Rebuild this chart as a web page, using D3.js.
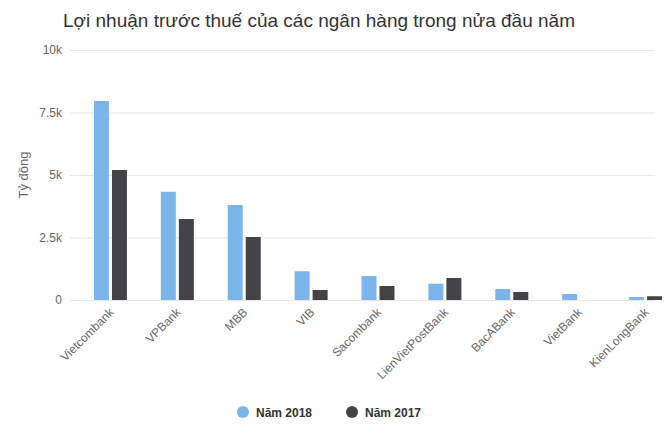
<!doctype html>
<html>
<head>
<meta charset="utf-8">
<script src="https://cdnjs.cloudflare.com/ajax/libs/d3/7.8.5/d3.min.js"></script>
<style>
  body { margin: 0; background: #fff; font-family: "Liberation Sans", Arial, sans-serif; }
</style>
</head>
<body>
<div id="chart"></div>
<script>
// chart data
const banks = ["Vietcombank", "VPBank", "MBB", "VIB", "Sacombank", "LienVietPostBank", "BacABank", "VietBank", "KienLongBank"];
const y2018 = [7960, 4330, 3800, 1150, 960, 650, 440, 240, 120];
const y2017 = [5200, 3240, 2520, 400, 560, 880, 320, 0, 150];
const series = ["Năm 2018", "Năm 2017"];
const colors = ["#7cb5ec", "#434348"];
const yTicks = [0, 2500, 5000, 7500, 10000];

const W = 665, H = 443;
const svg = d3.select("#chart").append("svg").attr("width", W).attr("height", H);

svg.append("text").attr("x", 63).attr("y", 27)
  .text("Lợi nhuận trước thuế của các ngân hàng trong nửa đầu năm")
  .style("font-size", "19px").attr("fill", "#333");

const x = d3.scaleBand().domain(banks).range([77, 679]);
const y = d3.scaleLinear().domain([0, 10000]).range([300, 50]);

// grid
svg.selectAll(".grid").data(yTicks).join("line")
  .attr("x1", 70).attr("x2", 655)
  .attr("y1", d => y(d) + 0.5).attr("y2", d => y(d) + 0.5)
  .attr("stroke", "#e6e6e6");

svg.selectAll(".ylab").data(yTicks).join("text")
  .attr("x", 62).attr("y", d => y(d) + 4).attr("text-anchor", "end")
  .style("font-size", "12px").attr("fill", "#666")
  .text(d => d === 0 ? "0" : (d / 1000) + "k");

svg.append("text").attr("transform", "translate(28,175) rotate(-90)")
  .attr("text-anchor", "middle").style("font-size", "13px").attr("fill", "#666")
  .text("Tỷ đồng");

const barW = 15, gap = 3;
[y2018, y2017].forEach((vals, s) => {
  svg.selectAll(".bar" + s).data(vals).join("rect")
    .attr("x", (d, i) => x(banks[i]) + x.bandwidth() / 2 - barW - gap / 2 + s * (barW + gap))
    .attr("y", d => y(d))
    .attr("width", barW)
    .attr("height", d => y(0) - y(d))
    .attr("fill", colors[s]);
});

// x axis labels
svg.selectAll(".xlab").data(banks).join("text")
  .attr("transform", d => `translate(${x(d) + x.bandwidth() / 2 + 4},${313}) rotate(-45)`)
  .attr("text-anchor", "end").style("font-size", "12px").attr("fill", "#666")
  .text(d => d);

// legend
const legX = [243, 352];
series.forEach((s, i) => {
  svg.append("circle").attr("cx", legX[i]).attr("cy", 412).attr("r", 6).attr("fill", colors[i]);
  svg.append("text").attr("x", legX[i] + 13).attr("y", 417)
    .style("font-size", "12px").style("font-weight", "bold").attr("fill", "#333").text(s);
});
</script>
</body>
</html>
